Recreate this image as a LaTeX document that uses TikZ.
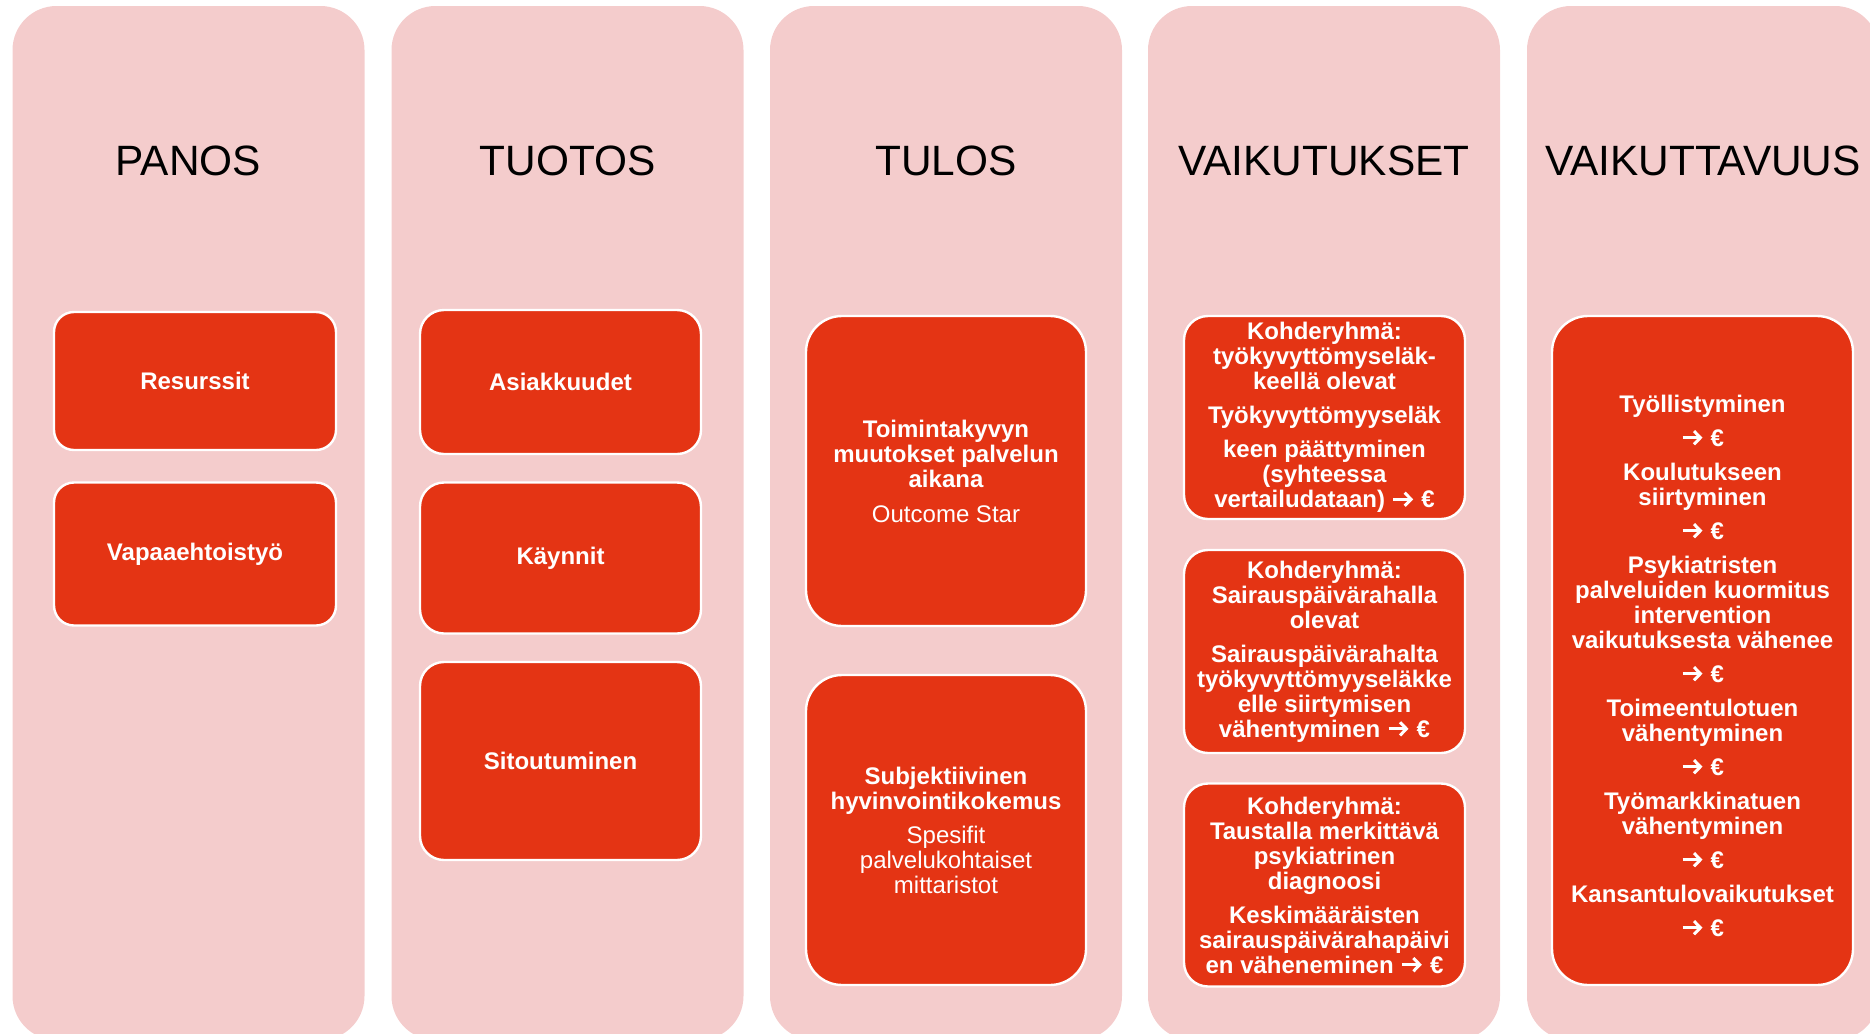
\documentclass[tikz,border=0pt]{standalone}
\usepackage{fontspec}
\setmainfont{Liberation Sans}
\usetikzlibrary{positioning, arrows.meta}

\definecolor{colpink}{HTML}{F4CCCC}
\definecolor{boxred}{HTML}{E43414}

% bold chevron arrow followed by the euro sign
\newcommand{\toeur}{\tikz[x=1pt, y=1pt, baseline=0pt]
  \draw[white, line width=1.5pt, -{Straight Barb[length=3.2pt, width=6.6pt, line width=1.5pt]}] (0,4.2) -- (10,4.2);\ €}

\tikzset{
  column/.style={fill=colpink, rounded corners=22pt, minimum width=176pt, minimum height=517pt, inner sep=0pt},
  heading/.style={font=\fontsize{21.2}{25}\selectfont},
  boxtext/.style={text=white, align=center, inner sep=0pt, font=\fontsize{12}{12.5}\selectfont\bfseries},
  box/.style={boxtext, fill=boxred, draw=white, line width=1.2pt},
}

\begin{document}
\begin{tikzpicture}[x=0.5pt, y=-0.5pt]
    \useasboundingbox (0,0) rectangle (1870,1034);
    \clip (0,0) rectangle (1870,1034);
    % Columns
    \node[column] (panos) at (188.5,523) {};
    \node[column] (tuotos) at (567.5,523) {};
    \node[column] (tulos) at (946,523) {};
    \node[column] (vaikutukset) at (1324,523) {};
    \node[column] (vaikuttavuus) at (1703,523) {};
    % Headings
    \node[heading] (panosH) at (188.5,161) {PANOS};
    \node[heading] (tuotosH) at (567.5,161) {TUOTOS};
    \node[heading] (tulosH) at (946,161) {TULOS};
    \node[heading] (vaikutuksetH) at (1324,161) {VAIKUTUKSET};
    \node[heading] (vaikuttavuusH) at (1703,161) {VAIKUTTAVUUS};
    % Panos
    \node[box, rounded corners=10pt, minimum width=141pt, minimum height=69pt] (resurssit) at (195,381) {Resurssit};
    \node[box, rounded corners=10pt, minimum width=141pt, minimum height=71.5pt] (vapaa) at (195,554) {Vapaaehtoistyö};
    % Tuotos
    \node[box, rounded corners=12pt, minimum width=140.5pt, minimum height=72pt] (asiakkuudet) at (560.5,382) {Asiakkuudet};
    \node[box, rounded corners=12pt, minimum width=140.5pt, minimum height=75.5pt] (kaynnit) at (560.5,558) {Käynnit};
    \node[box, rounded corners=12pt, minimum width=140.5pt, minimum height=99pt] (sitoutuminen) at (560.5,761) {Sitoutuminen};
    % Tulos
    \node[box, rounded corners=18pt, minimum width=140pt, minimum height=155pt] (toimintakyky) at (946,471)
      {Toimintakyvyn\\muutokset palvelun\\aikana\\[5pt]\mdseries Outcome Star};
    \node[box, rounded corners=18pt, minimum width=140pt, minimum height=155pt] (hyvinvointi) at (946,830)
      {Subjektiivinen\\hyvinvointikokemus\\[4.5pt]\mdseries Spesifit\\\mdseries palvelukohtaiset\\\mdseries mittaristot};
    % Vaikutukset
    \node[box, rounded corners=12pt, minimum width=140.5pt, minimum height=101.5pt] (elake) at (1324.5,417.5)
      {Kohderyhmä:\\työkyvyttömyseläk-\\keellä olevat\\[4.5pt]Työkyvyttömyyseläk\\[4.5pt]keen päättyminen\\(syhteessa\\vertailudataan) \toeur};
    \node[box, rounded corners=12pt, minimum width=140.5pt, minimum height=101.5pt] (sairaus) at (1324.5,651.5)
      {Kohderyhmä:\\Sairauspäivärahalla\\olevat\\[4.5pt]Sairauspäivärahalta\\työkyvyttömyyseläkke\\elle siirtymisen\\vähentyminen \toeur};
    \node[box, rounded corners=12pt, minimum width=140.5pt, minimum height=101.5pt] (diagnoosi) at (1324.5,885)
      {Kohderyhmä:\\Taustalla merkittävä\\psykiatrinen\\diagnoosi\\[4.5pt]Keskimääräisten\\sairauspäivärahapäivi\\en väheneminen \toeur};
    % Vaikuttavuus
    \node[box, rounded corners=18pt, minimum width=150.5pt, minimum height=334.5pt] (talous) at (1702.5,650.5) {};
    \node[boxtext] (talousT) at ([yshift=-7.5pt]talous.center)
      {Työllistyminen\\[4.5pt]\toeur\\[4.5pt]Koulutukseen\\siirtyminen\\[4.5pt]\toeur\\[4.5pt]Psykiatristen\\palveluiden kuormitus\\intervention\\vaikutuksesta vähenee\\[4.5pt]\toeur\\[4.5pt]Toimeentulotuen\\vähentyminen\\[4.5pt]\toeur\\[4.5pt]Työmarkkinatuen\\vähentyminen\\[4.5pt]\toeur\\[4.5pt]Kansantulovaikutukset\\[4.5pt]\toeur};
\end{tikzpicture}
\end{document}
